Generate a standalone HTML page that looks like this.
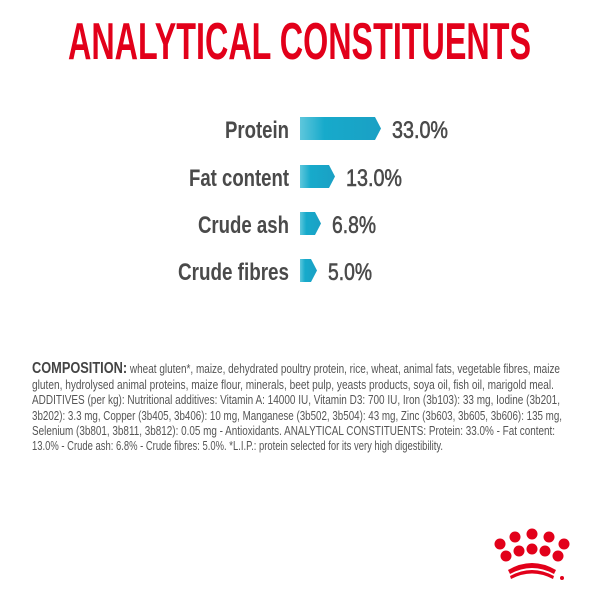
<!DOCTYPE html>
<html><head><style>html,body{margin:0;padding:0;background:#fff}</style></head>
<body>
<svg width="600" height="600" xmlns="http://www.w3.org/2000/svg" style="display:block">
<defs>
<linearGradient id="g" x1="0" x2="1" y1="0" y2="0">
<stop offset="0" stop-color="#5ec7dc"/><stop offset="0.3" stop-color="#17aacb"/><stop offset="1" stop-color="#1aa0c4"/>
</linearGradient>
</defs>
<text x="68" y="59" font-family="Liberation Sans Narrow, Liberation Sans, sans-serif" font-size="52" font-weight="bold" fill="#e2001a" textLength="463" lengthAdjust="spacingAndGlyphs">ANALYTICAL CONSTITUENTS</text>
<g font-family="Liberation Sans Narrow, Liberation Sans, sans-serif" font-weight="bold" font-size="24" fill="#4a4a4a">
<text x="225" y="138" textLength="64" lengthAdjust="spacingAndGlyphs">Protein</text>
<text x="189" y="186" textLength="100" lengthAdjust="spacingAndGlyphs">Fat content</text>
<text x="198" y="233" textLength="91" lengthAdjust="spacingAndGlyphs">Crude ash</text>
<text x="178" y="280" textLength="111" lengthAdjust="spacingAndGlyphs">Crude fibres</text>
</g>
<g font-family="Liberation Sans Narrow, Liberation Sans, sans-serif" font-size="24" fill="#4a4a4a" stroke="#4a4a4a" stroke-width="0.6">
<text x="392" y="138" textLength="56" lengthAdjust="spacingAndGlyphs">33.0%</text>
<text x="346" y="186" textLength="56" lengthAdjust="spacingAndGlyphs">13.0%</text>
<text x="332" y="233" textLength="44" lengthAdjust="spacingAndGlyphs">6.8%</text>
<text x="328" y="280" textLength="44" lengthAdjust="spacingAndGlyphs">5.0%</text>
</g>
<polygon points="300,117 375,117 381,128.5 375,140 300,140" fill="url(#g)"/>
<polygon points="300,165 329,165 335,176.5 329,188 300,188" fill="url(#g)"/>
<polygon points="300,212 315,212 321,223.5 315,235 300,235" fill="url(#g)"/>
<polygon points="300,259 311,259 317,270.5 311,282 300,282" fill="url(#g)"/>
<g font-family="Liberation Sans Narrow, Liberation Sans, sans-serif" font-size="12.5" fill="#555">
<text x="32" y="373" textLength="528" lengthAdjust="spacingAndGlyphs"><tspan font-weight="bold" font-size="16" fill="#444">COMPOSITION:</tspan> wheat gluten*, maize, dehydrated poultry protein, rice, wheat, animal fats, vegetable fibres, maize</text>
<text x="32" y="389" textLength="522" lengthAdjust="spacingAndGlyphs">gluten, hydrolysed animal proteins, maize flour, minerals, beet pulp, yeasts products, soya oil, fish oil, marigold meal.</text>
<text x="32" y="404" textLength="528" lengthAdjust="spacingAndGlyphs">ADDITIVES (per kg): Nutritional additives: Vitamin A: 14000 IU, Vitamin D3: 700 IU, Iron (3b103): 33 mg, Iodine (3b201,</text>
<text x="32" y="420" textLength="530" lengthAdjust="spacingAndGlyphs">3b202): 3.3 mg, Copper (3b405, 3b406): 10 mg, Manganese (3b502, 3b504): 43 mg, Zinc (3b603, 3b605, 3b606): 135 mg,</text>
<text x="32" y="435" textLength="523" lengthAdjust="spacingAndGlyphs">Selenium (3b801, 3b811, 3b812): 0.05 mg - Antioxidants. ANALYTICAL CONSTITUENTS: Protein: 33.0% - Fat content:</text>
<text x="32" y="450" textLength="411" lengthAdjust="spacingAndGlyphs">13.0% - Crude ash: 6.8% - Crude fibres: 5.0%. *L.I.P.: protein selected for its very high digestibility.</text>
</g>
<g fill="#e2001a">
<circle cx="500" cy="544" r="5.5"/><circle cx="515" cy="537" r="5.5"/><circle cx="532" cy="534" r="5.5"/><circle cx="549" cy="537" r="5.5"/><circle cx="564" cy="544" r="5.5"/>
<circle cx="506" cy="556" r="5.5"/><circle cx="519" cy="551" r="5.5"/><circle cx="532" cy="549" r="5.5"/><circle cx="545" cy="551" r="5.5"/><circle cx="558" cy="556" r="5.5"/>
<path d="M508 570 Q532 556 556 570 L554 574 Q532 562 510 574Z"/>
<path d="M510 576 Q532 564 554 576 L553 579 Q532 568 511 579Z"/>
<circle cx="562" cy="578" r="2"/>
</g>
</svg>
</body></html>
